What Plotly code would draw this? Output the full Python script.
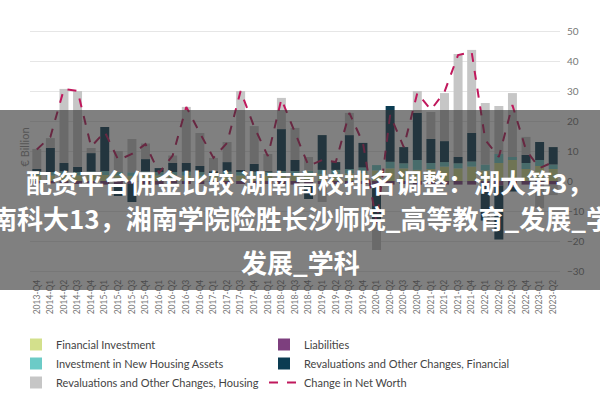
import plotly.graph_objects as go

# quarters 2013-Q4 .. 2023-Q2
quarters = ["2013-Q4"] + [f"{y}-Q{q}" for y in range(2014, 2023) for q in range(1, 5)] + ["2023-Q1", "2023-Q2"]

# € billion
financial_investment = [2.0, 1.8, 2.0, 1.8, 2.0, 2.0, 1.8, 1.7, 2.0, 1.8, 1.8, 1.8, 1.7, 1.6, 1.8, 1.8, 1.8, 1.8, 2.0, 2.0,
                        2.0, 2.2, 2.2, 2.5, 2.5, 3.5, 4.2, 4.2, 3.7, 4.0, 4.8, 4.2, 4.8, 3.5, 6.0, 7.0, 4.0, 5.0, 4.0]
liabilities = [-0.8, -0.8, -1.0, -1.0, -0.8, -1.2, -1.0, -1.0, -1.0, -1.2, -0.8, -1.0, -1.0, -0.8, -1.0, -1.0, -1.0, -1.0, -1.0, -1.2,
               -1.0, -1.0, -1.0, -1.2, -1.0, -1.0, -1.2, -1.0, -1.2, -1.0, -1.2, -1.2, -1.2, -1.2, -1.5, -2.0, -1.2, -1.5, -1.2]
housing_investment = [1.2, 1.2, 1.2, 1.2, 1.2, 1.3, 1.2, 1.2, 1.2, 1.2, 1.2, 1.3, 1.3, 1.2, 1.3, 1.2, 1.3, 1.2, 1.3, 1.3,
                      1.4, 1.5, 1.5, 1.5, 2.0, 1.8, 2.2, 1.7, 3.3, 2.0, 1.5, 1.7, 1.7, 2.0, 3.0, 1.0, 2.0, 2.0, 1.5]
reval_financial = [0.8, 8.0, 2.8, 1.7, 6.1, 14.7, -4.0, -6.0, 4.1, 1.3, 3.0, 2.9, 2.0, 0.4, 3.2, 0.7, 2.6, 0.2, 14.0, 3.7,
                   -5.0, 11.6, 2.6, 11.3, 8.2, -12.0, 18.6, 5.4, 15.7, 8.0, 7.0, 2.1, 9.5, -12.0, -18.0, -1.5, 2.7, 6.0, 5.8]
reval_housing = [6.7, 3.3, 24.7, 25.3, 1.7, 0.0, 7.0, 11.1, 5.2, 0.0, 2.5, 18.7, 11.0, 4.5, 6.7, 26.3, 12.6, 5.8, 10.4, 10.7,
                 4.6, -6.0, 0.0, 7.4, 0.0, -10.0, 0.0, 0.0, 7.3, 9.0, 16.0, 34.3, 27.7, 20.5, 16.0, 21.3, 6.0, -7.5, -3.5]
net_worth = [10.5, 14.7, 30.7, 30.0, 11.4, 16.4, 7.0, 9.0, 12.3, 2.7, 8.5, 24.7, 16.0, 7.7, 12.7, 30.0, 18.0, 8.3, 27.3, 16.0,
             5.0, 7.0, 6.3, 22.7, 12.7, -14.0, 22.0, 11.3, 29.3, 23.7, 29.7, 42.0, 43.0, 13.7, 8.0, 25.3, 10.3, 4.3, 6.3]

W, H = 600, 400
L, R, T, B = 30, 40, 16, 123
pw, ph = W - L - R, H - T - B

# helpers: pixel -> paper coordinate
def px(x):
    return (x - L) / pw

def py(y):
    return (H - B - y) / ph

fig = go.Figure()
bars = [
    ("Financial Investment", financial_investment, "#d3e08c"),
    ("Liabilities", liabilities, "#7d3f7e"),
    ("Investment in New Housing Assets", housing_investment, "#6ccbc7"),
    ("Revaluations and Other Changes, Financial", reval_financial, "#0b3c52"),
    ("Revaluations and Other Changes, Housing", reval_housing, "#c6c6c6"),
]
for name, vals, col in bars:
    fig.add_trace(go.Bar(x=quarters, y=vals, name=name, marker_color=col, marker_line_width=0))

fig.add_trace(go.Scatter(x=quarters, y=net_worth, name="Change in Net Worth", mode="lines",
                         line=dict(color="#c0185c", width=2, dash="dash")))

fig.update_layout(
    width=W, height=H,
    margin=dict(l=L, r=R, t=T, b=B, autoexpand=False),
    barmode="relative", bargap=0.34,
    plot_bgcolor="white", paper_bgcolor="white",
    font=dict(family="Lato", color="#555"),
    showlegend=True,
    legend=dict(orientation="h", x=px(16), y=py(330), xanchor="left", yanchor="top",
                entrywidth=203, entrywidthmode="pixels", traceorder="normal",
                font=dict(size=11, color="#444"), itemwidth=30),
)
fig.update_xaxes(type="category", tickangle=-90, tickfont=dict(size=8.5, color="#777"),
                 showgrid=False, showline=False, ticks="")
fig.update_yaxes(side="right", range=[-32, 55], tickvals=list(range(-30, 51, 10)),
                 tickfont=dict(size=10, color="#777"), gridcolor="#e6e6e6", gridwidth=1,
                 zeroline=True, zerolinecolor="#e6e6e6", zerolinewidth=1, showline=False,
                 ticklabelstandoff=6)

# y-axis title on the left
fig.add_annotation(text="€ Billion", xref="paper", yref="paper", x=px(15), y=py(147),
                   textangle=-90, showarrow=False, font=dict(size=11, color="#555"))

# grey banner with overlaid headline
fig.add_shape(type="rect", xref="paper", yref="paper", x0=px(0), x1=px(600), y0=py(290), y1=py(110),
              fillcolor="rgba(50,50,50,0.62)", line_width=0, layer="above")
banner_font = dict(family="Noto Sans CJK SC", size=26, color="white", weight="bold")
for txt, cx, cy in [
    ("配资平台佣金比较 湖南高校排名调整：湖大第3，", 309, 181),
    ("南科大13，湘南学院险胜长沙师院_高等教育_发展_学", 301, 217),
    ("发展_学科", 300, 261),
]:
    fig.add_annotation(text=txt, xref="paper", yref="paper", x=px(cx), y=py(cy),
                       showarrow=False, font=banner_font, xanchor="center", yanchor="middle")

# drop the page's default body margin so the figure sits at the top-left corner
fig.write_html("out.html", config={"displayModeBar": False},
               post_script="document.body.style.margin='0';")
